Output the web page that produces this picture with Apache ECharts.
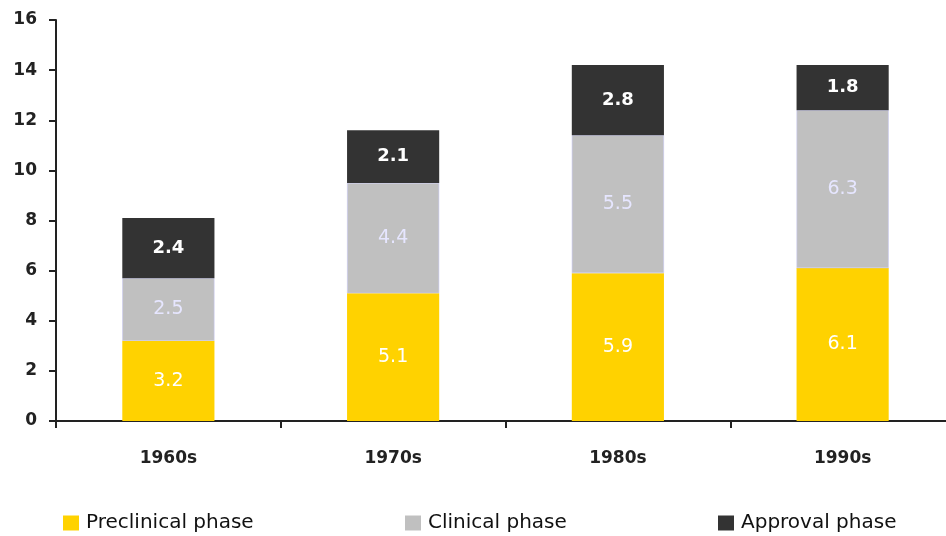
<!DOCTYPE html>
<html><head><meta charset="utf-8">
<script src="https://cdn.jsdelivr.net/npm/echarts@6/dist/echarts.min.js"></script>
<style>html,body{margin:0;padding:0;background:#fff;overflow:hidden;width:946px;height:536px}#c{width:955px;height:536px}</style>
</head><body><div id="c"></div>
<script>
const categories = ['1960s', '1970s', '1980s', '1990s'];
const preclinical = [3.2, 5.1, 5.9, 6.1];
const clinical = [2.5, 4.4, 5.5, 6.3];
const approval = [2.4, 2.1, 2.8, 1.8];
const seriesNames = ['Preclinical phase', 'Clinical phase', 'Approval phase'];

const chart = echarts.init(document.getElementById('c'), null, {renderer: 'canvas'});
const fontFam = '"DejaVu Sans", sans-serif';
function lbl(color, weight, size) {
  return {show: true, position: 'inside', color: color, fontSize: size, fontWeight: weight, fontFamily: fontFam,
    formatter: p => p.value.toFixed(1)};
}
function legend(name, left) {
  return {data: [name], left: left, top: 513, itemWidth: 16, itemHeight: 15, icon: 'rect', itemGap: 0,
    itemStyle: {borderWidth: 0},
    textStyle: {fontSize: 20, color: '#111', fontFamily: fontFam, padding: [0, 0, 0, 2]}, padding: 0, selectedMode: false};
}
chart.setOption({
  animation: false,
  backgroundColor: '#fff',
  grid: {left: 56, top: 20, bottom: 115, right: 0, containLabel: false},
  legend: [legend(seriesNames[0], 63), legend(seriesNames[1], 405), legend(seriesNames[2], 718)],
  xAxis: {
    type: 'category', data: categories,
    axisLine: {lineStyle: {color: '#222', width: 2}},
    axisTick: {show: true, length: 7, lineStyle: {color: '#222', width: 2}},
    axisLabel: {fontSize: 17, fontWeight: 'bold', color: '#222', fontFamily: fontFam, margin: 29}
  },
  yAxis: {
    type: 'value', min: 0, max: 16, interval: 2,
    axisLine: {show: true, lineStyle: {color: '#222', width: 2}},
    axisTick: {show: true, length: 7, lineStyle: {color: '#222', width: 2}},
    splitLine: {show: false},
    axisLabel: {fontSize: 17, fontWeight: 'bold', color: '#222', fontFamily: fontFam, margin: 19}
  },
  series: [
    {name: seriesNames[0], type: 'bar', stack: 's', data: preclinical, barWidth: '41%',
      itemStyle: {color: '#FFD200'}, label: lbl('#ffffff', 'normal', 19)},
    {name: seriesNames[1], type: 'bar', stack: 's', data: clinical,
      itemStyle: {color: '#C0C0C0', borderColor: '#c4c4f0', borderWidth: 0.6}, label: lbl('#e6e6ff', 'normal', 19)},
    {name: seriesNames[2], type: 'bar', stack: 's', data: approval,
      itemStyle: {color: '#333333'}, label: lbl('#ffffff', 'bold', 18)}
  ]
});
</script></body></html>
